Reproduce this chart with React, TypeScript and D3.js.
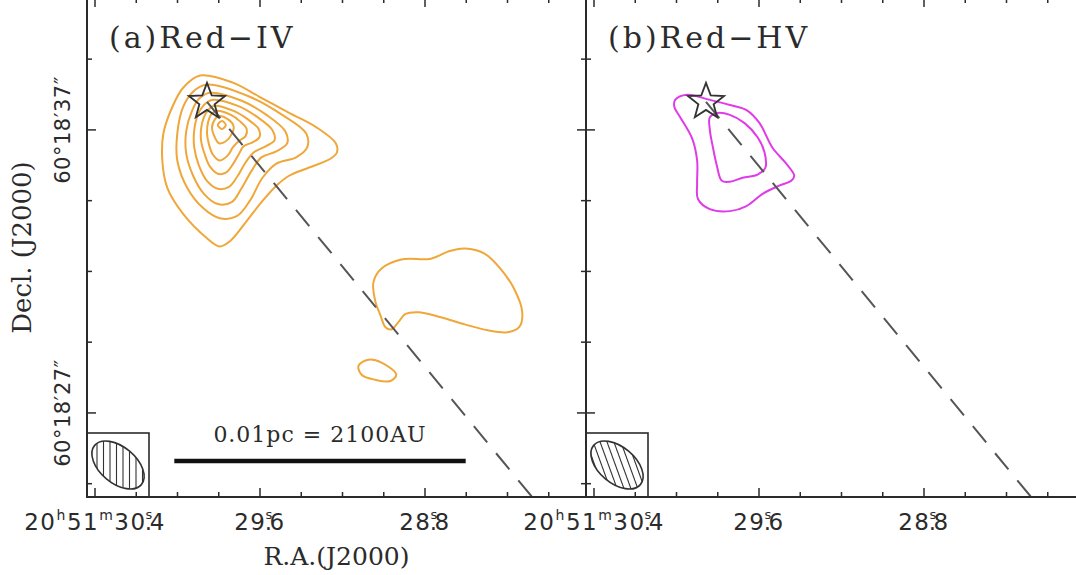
import React from "react";
import * as d3 from "d3";

// ---------------- data ----------------
// View extent of each panel: RA in seconds of time after 20h51m, Dec in arcsec after +60°18′
const RA_VIEW: [number, number] = [30.4388, 28.0194];
const DEC_VIEW: [number, number] = [24.03, 41.66];
const DEC0_DEG = 60.3;

const RA_TICKS = [30.4, 30.2, 30.0, 29.8, 29.6, 29.4, 29.2, 29.0, 28.8, 28.6, 28.4, 28.2];
const RA_MAJOR = [30.4, 29.6, 28.8];
const RA_LABELS = [
  { ra: 30.4, h: "20", m: "51", s: "30", f: "4" },
  { ra: 29.6, h: "", m: "", s: "29", f: "6" },
  { ra: 28.8, h: "", m: "", s: "28", f: "8" },
];
const DEC_TICKS = [24.5, 27, 29.5, 32, 34.5, 37, 39.5];
const DEC_MAJOR = [27, 37];
const DEC_LABELS = [
  { dec: 37, text: "60°18′37″" },
  { dec: 27, text: "60°18′27″" },
];

const STAR = { ra: 29.857, dec: 37.99 };
const OUTFLOW_PA = 220; // deg, east of north
const OUTFLOW_LEN = 25; // arcsec
const BEAM = { major: 2.2, minor: 1.3, pa: 50 }; // arcsec FWHM, deg
const SCALEBAR = { pc: 0.01, au: 2100, distPc: 200 };

// contour vertices: [west offset, north offset] in arcsec from the star
const RED_IV_1: [number, number][] = [[-0.25,0.93],[0.93,0.68],[1.89,0.18],[2.96,-0.39],[3.93,-0.89],[4.64,-1.46],[4.68,-1.79],[4.46,-2.0],[3.68,-2.32],[2.96,-2.61],[2.5,-2.96],[2.0,-3.5],[1.43,-4.21],[0.82,-4.93],[0.46,-5.11],[0,-4.82],[-0.86,-3.96],[-1.43,-3.04],[-1.61,-2.07],[-1.57,-1.11],[-1.25,-0.18],[-0.86,0.5]];
const RED_IV_2: [number, number][] = [[0,0.61],[1.54,0.18],[2.71,-0.46],[3.57,-1.11],[3.61,-1.61],[3.21,-1.96],[2.5,-2.18],[2.0,-2.68],[1.54,-3.5],[1.07,-4.04],[0.46,-4.11],[-0.14,-3.75],[-0.71,-3.04],[-1.07,-2.07],[-1.07,-1.11],[-0.86,-0.18],[-0.5,0.36]];
const RED_IV_3: [number, number][] = [[0.11,0.32],[1.25,0.04],[2.14,-0.46],[2.82,-1.04],[2.89,-1.46],[2.5,-1.75],[1.96,-1.96],[1.61,-2.43],[1.25,-3.04],[0.89,-3.54],[0.39,-3.61],[-0.11,-3.25],[-0.5,-2.61],[-0.75,-1.82],[-0.75,-1.04],[-0.54,-0.32],[-0.29,0.11]];
const RED_IV_4: [number, number][] = [[0.18,0.07],[1.11,-0.14],[1.82,-0.54],[2.36,-1.0],[2.43,-1.36],[2.11,-1.57],[1.68,-1.79],[1.39,-2.14],[1.11,-2.61],[0.79,-3.0],[0.39,-3.07],[0,-2.79],[-0.29,-2.25],[-0.46,-1.61],[-0.46,-1.0],[-0.32,-0.43],[-0.11,-0.11]];
const RED_IV_5: [number, number][] = [[0.25,-0.14],[0.96,-0.32],[1.46,-0.61],[1.86,-0.96],[1.89,-1.25],[1.64,-1.43],[1.32,-1.57],[1.14,-1.86],[0.93,-2.21],[0.68,-2.5],[0.39,-2.54],[0.11,-2.29],[-0.07,-1.89],[-0.21,-1.39],[-0.21,-0.93],[-0.11,-0.54],[0.04,-0.29]];
const RED_IV_6: [number, number][] = [[0.32,-0.32],[0.86,-0.46],[1.18,-0.68],[1.43,-0.96],[1.39,-1.21],[1.14,-1.39],[0.93,-1.61],[0.75,-1.89],[0.46,-2.07],[0.21,-1.86],[0.07,-1.5],[0,-1.11],[0.04,-0.71],[0.14,-0.46]];
const RED_IV_7: [number, number][] = [[0.43,-0.5],[0.75,-0.61],[0.96,-0.86],[0.89,-1.14],[0.68,-1.39],[0.43,-1.46],[0.25,-1.18],[0.18,-0.89],[0.29,-0.61]];
const RED_IV_8: [number, number][] = [[0.54,-0.68],[0.68,-0.82],[0.54,-0.96],[0.39,-0.82]];
const RED_IV_BLOB: [number, number][] = [[6.0,-6.36],[6.29,-5.89],[7.0,-5.57],[8.07,-5.54],[8.68,-5.29],[9.29,-5.18],[10.0,-5.36],[10.57,-5.89],[11.07,-6.61],[11.36,-7.43],[11.25,-7.96],[10.82,-8.14],[10.11,-8.07],[9.29,-7.86],[8.43,-7.61],[7.61,-7.43],[7.14,-7.5],[6.89,-7.79],[6.64,-8.04],[6.43,-7.96],[6.25,-7.54],[6.07,-7.07]];
const RED_IV_SMALL: [number, number][] = [[5.46,-9.32],[5.82,-9.11],[6.29,-9.21],[6.82,-9.64],[6.61,-9.86],[6.07,-9.82],[5.57,-9.64]];

const RED_HV_1: [number, number][] = [[-1.11,0.07],[-0.68,0.25],[0.14,0.07],[0.86,-0.11],[1.46,-0.29],[1.93,-0.75],[2.39,-1.61],[2.89,-2.18],[3.18,-2.61],[3.07,-2.79],[2.64,-2.96],[2.04,-3.25],[1.46,-3.68],[0.86,-3.86],[0.14,-3.79],[-0.29,-3.43],[-0.32,-2.89],[-0.32,-2.07],[-0.5,-1.29],[-0.93,-0.54],[-1.14,-0.18]];
const RED_HV_2: [number, number][] = [[0.14,-0.54],[0.43,-0.39],[0.86,-0.46],[1.39,-0.75],[1.86,-1.25],[2.11,-1.79],[2.14,-2.32],[1.86,-2.57],[1.32,-2.68],[0.86,-2.82],[0.57,-2.79],[0.39,-2.25],[0.25,-1.61],[0.14,-1.0]];

// ---------------- styles / layout ----------------
const INK = "#2b2b2b";
const ORANGE = "#F0A73A";
const MAGENTA = "#E03BE8";
const W = 499;
const H = 499;
const TOP = -2;

const PANELS = [
  { id: "a", x0: 87, label: "(a)Red−IV", color: ORANGE, contours: [RED_IV_1, RED_IV_2, RED_IV_3, RED_IV_4, RED_IV_5, RED_IV_6, RED_IV_7, RED_IV_8, RED_IV_BLOB, RED_IV_SMALL], yLabels: true, scalebar: true, hatchRot: 0 },
  { id: "b", x0: 586, label: "(b)Red−HV", color: MAGENTA, contours: [RED_HV_1, RED_HV_2], yLabels: false, scalebar: false, hatchRot: -20 },
];

const SEC_TO_ARCSEC = 15 * Math.cos((DEC0_DEG * Math.PI) / 180);
const toRA = (west: number) => STAR.ra - west / SEC_TO_ARCSEC;
const toDec = (north: number) => STAR.dec + north;

function starPath(cx: number, cy: number, R: number, r: number) {
  const pts: [number, number][] = [];
  for (let i = 0; i < 10; i++) {
    const a = -Math.PI / 2 + (i * Math.PI) / 5;
    const rr = i % 2 === 0 ? R : r;
    pts.push([cx + rr * Math.cos(a), cy + rr * Math.sin(a)]);
  }
  return "M" + pts.map((p) => p.join(",")).join("L") + "Z";
}

function Panel({ p }: { p: (typeof PANELS)[number] }) {
  const x = d3.scaleLinear().domain(RA_VIEW).range([0, W]);
  const y = d3.scaleLinear().domain(DEC_VIEW).range([H, 0]);
  const pxArcX = Math.abs(x(0) - x(1 / SEC_TO_ARCSEC));
  const line = d3
    .line<[number, number]>()
    .x((d) => x(toRA(d[0])))
    .y((d) => y(toDec(d[1])))
    .curve(d3.curveCatmullRomClosed.alpha(0.5));
  const sx = x(STAR.ra);
  const sy = y(STAR.dec);
  const pa = (OUTFLOW_PA * Math.PI) / 180;
  const ex = x(toRA(-OUTFLOW_LEN * Math.sin(pa)));
  const ey = y(toDec(OUTFLOW_LEN * Math.cos(pa)));

  // beam box
  const boxW = 62, boxH = 64;
  const bcx = boxW / 2, bcy = H - boxH / 2;
  const brx = (BEAM.major / 2) * pxArcX;
  const bry = (BEAM.minor / 2) * pxArcX;
  const hatch = d3.range(-60, 61, 6.5);

  const barLen = (SCALEBAR.au / SCALEBAR.distPc) * pxArcX;
  const barCx = 233;

  return (
    <g transform={`translate(${p.x0},${TOP})`}>
      <defs>
        <clipPath id={`clip-${p.id}`}>
          <rect x={0} y={0} width={W} height={H} />
        </clipPath>
        <clipPath id={`beam-${p.id}`}>
          <ellipse cx={0} cy={0} rx={brx} ry={bry} />
        </clipPath>
      </defs>
      <g clipPath={`url(#clip-${p.id})`}>
        {p.contours.map((c, i) => (
          <path key={i} d={line(c) || ""} fill="none" stroke={p.color} strokeWidth={2} />
        ))}
        <line x1={sx} y1={sy} x2={ex} y2={ey} stroke="#555" strokeWidth={2} strokeDasharray="21 14" />
        <path d={starPath(sx, sy, 19, 8)} fill="none" stroke="#333" strokeWidth={1.8} strokeLinejoin="miter" />
        {/* beam */}
        <rect x={0} y={H - boxH} width={boxW} height={boxH} fill="#fff" stroke={INK} strokeWidth={1.6} />
        <g transform={`translate(${bcx},${bcy}) rotate(${90 - BEAM.pa})`}>
          <g clipPath={`url(#beam-${p.id})`}>
            <g transform={`rotate(${-(90 - BEAM.pa) + p.hatchRot})`}>
              {hatch.map((h, i) => (
                <line key={i} x1={h} y1={-60} x2={h} y2={60} stroke="#333" strokeWidth={1.1} />
              ))}
            </g>
          </g>
          <ellipse cx={0} cy={0} rx={brx} ry={bry} fill="none" stroke="#333" strokeWidth={1.6} />
        </g>
        {p.scalebar && (
          <g>
            <text x={barCx} y={444} textAnchor="middle" fontFamily="DejaVu Serif" fontSize={22} letterSpacing={1} fill={INK}>
              {`${SCALEBAR.pc}pc = ${SCALEBAR.au}AU`}
            </text>
            <line x1={barCx - barLen / 2} y1={463} x2={barCx + barLen / 2} y2={463} stroke="#111" strokeWidth={4.5} />
          </g>
        )}
      </g>
      {/* ticks */}
      {RA_TICKS.map((t) => {
        const len = RA_MAJOR.includes(t) ? 9 : 5;
        const xx = x(t);
        return (
          <g key={t}>
            <line x1={xx} y1={H} x2={xx} y2={H - len} stroke={INK} strokeWidth={1.5} />
            <line x1={xx} y1={0} x2={xx} y2={len} stroke={INK} strokeWidth={1.5} />
          </g>
        );
      })}
      {DEC_TICKS.map((t) => {
        const len = DEC_MAJOR.includes(t) ? 9 : 5;
        const yy = y(t);
        return (
          <g key={t}>
            <line x1={0} y1={yy} x2={len} y2={yy} stroke={INK} strokeWidth={1.5} />
            <line x1={W} y1={yy} x2={W - len} y2={yy} stroke={INK} strokeWidth={1.5} />
          </g>
        );
      })}
      <rect x={0} y={0} width={W} height={H} fill="none" stroke={INK} strokeWidth={2} />
      {/* panel label */}
      <text x={22} y={50} fontFamily="DejaVu Serif" fontSize={30} letterSpacing={3} fill={INK}>
        {p.label}
      </text>
      {/* RA labels */}
      {RA_LABELS.map((l) => (
        <text key={l.ra} x={x(l.ra)} y={H + 33} textAnchor="middle" fontFamily="DejaVu Sans" fontSize={23} letterSpacing={1.5} fill={INK}>
          {l.h ? (
            <>
              {l.h}
              <tspan dy={-10} fontSize={14}>h</tspan>
              <tspan dy={10}>{l.m}</tspan>
              <tspan dy={-10} fontSize={14}>m</tspan>
              <tspan dy={10}>{l.s}</tspan>
            </>
          ) : (
            l.s
          )}
          <tspan dy={-11} dx={-1} fontSize={13}>s</tspan>
          <tspan dx={-9} dy={11}>.</tspan>
          <tspan dx={-4}>{l.f}</tspan>
        </text>
      ))}
      {p.yLabels &&
        DEC_LABELS.map((l) => (
          <text key={l.dec} transform={`translate(-17,${y(l.dec)}) rotate(-90)`} textAnchor="middle" fontFamily="DejaVu Sans" fontSize={21} letterSpacing={0.5} fill={INK}>
            {l.text}
          </text>
        ))}
    </g>
  );
}

export default function App() {
  return (
    <svg width={1076} height={575} style={{ position: "absolute", left: 0, top: 0, background: "#fff" }}>
      <rect x={0} y={0} width={1076} height={575} fill="#fff" />
      {PANELS.map((p) => (
        <Panel key={p.id} p={p} />
      ))}
      <text transform={`translate(31,${TOP + H / 2}) rotate(-90)`} textAnchor="middle" fontFamily="DejaVu Serif" fontSize={26} fill={INK}>
        Decl. (J2000)
      </text>
      <text x={87 + W / 2} y={565} textAnchor="middle" fontFamily="DejaVu Serif" fontSize={25} fill={INK}>
        R.A.(J2000)
      </text>
    </svg>
  );
}
